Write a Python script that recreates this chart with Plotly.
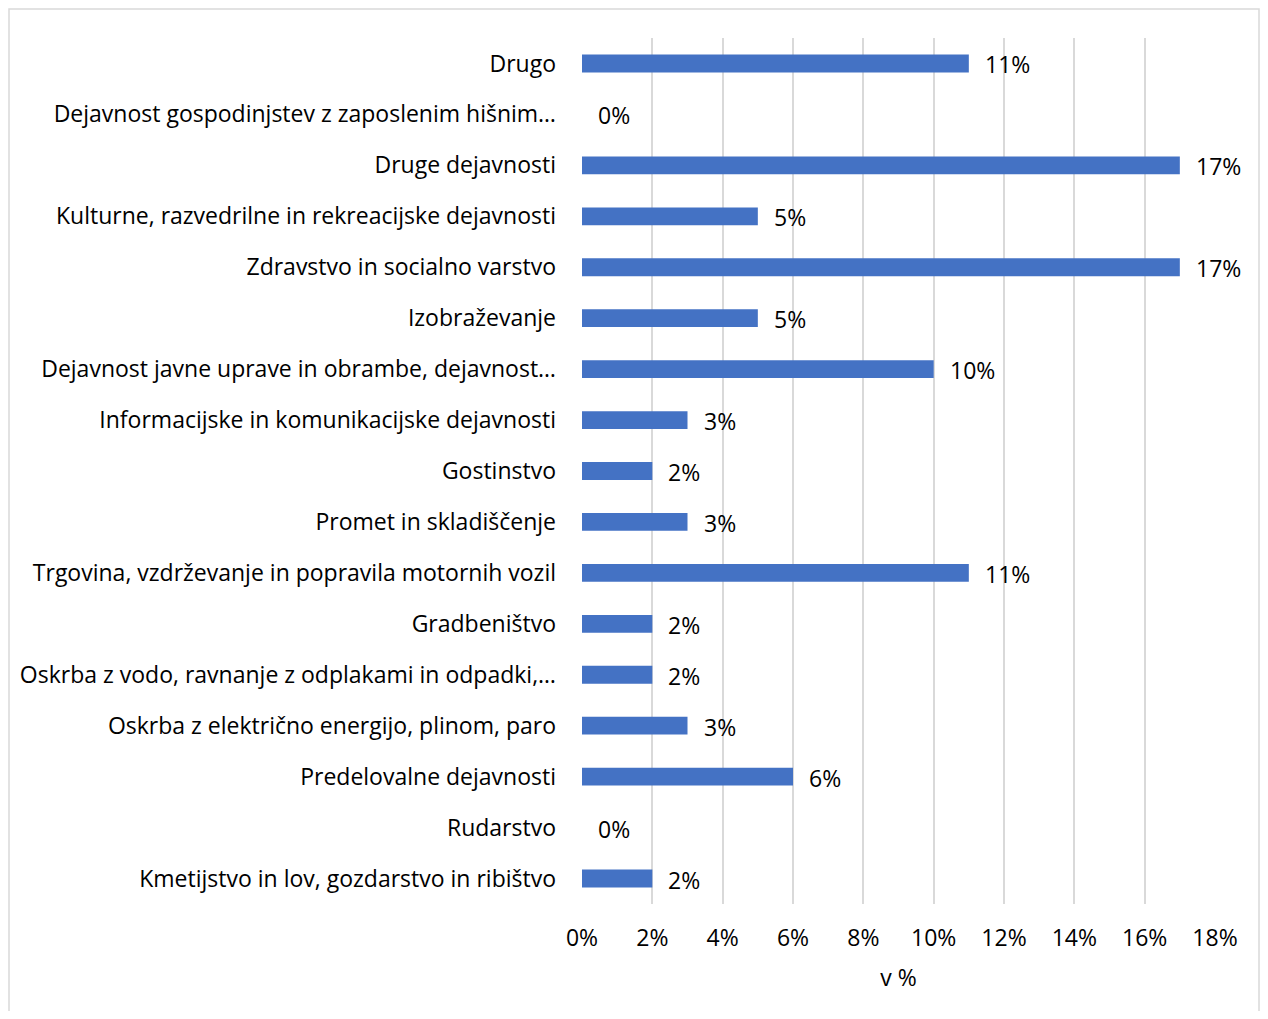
import plotly.graph_objects as go

categories = [
    "Kmetijstvo in lov, gozdarstvo in ribištvo",
    "Rudarstvo",
    "Predelovalne dejavnosti",
    "Oskrba z električno energijo, plinom, paro",
    "Oskrba z vodo, ravnanje z odplakami in odpadki,…",
    "Gradbeništvo",
    "Trgovina, vzdrževanje in popravila motornih vozil",
    "Promet in skladiščenje",
    "Gostinstvo",
    "Informacijske in komunikacijske dejavnosti",
    "Dejavnost javne uprave in obrambe, dejavnost…",
    "Izobraževanje",
    "Zdravstvo in socialno varstvo",
    "Kulturne, razvedrilne in rekreacijske dejavnosti",
    "Druge dejavnosti",
    "Dejavnost gospodinjstev z zaposlenim hišnim…",
    "Drugo",
]
values = [2, 0, 6, 3, 2, 2, 11, 3, 2, 3, 10, 5, 17, 5, 17, 0, 11]
x_ticks = [0, 2, 4, 6, 8, 10, 12, 14, 16, 18]
x_tick_labels = [f"{t}%" for t in x_ticks]
value_labels = [f"{v}%" for v in values]

FONT = "'Open Sans', 'Noto Sans', sans-serif"
FS = 23

fig = go.Figure()
fig.add_trace(go.Bar(
    y=categories,
    x=values,
    orientation="h",
    marker=dict(color="#4472C4", line=dict(width=0)),
    hoverinfo="x+y",
))

for cat, v, lab in zip(categories, values, value_labels):
    fig.add_annotation(
        x=v, y=cat, text=lab, showarrow=False,
        xanchor="left", xshift=14, yshift=-1,
        font=dict(family=FONT, size=FS, color="#000000"),
    )

# page is rendered with an 8px body margin; compensate (and avoid scrollbars)
OFF = 8
W, H = 1268 - 2 * OFF, 1019 - 2 * OFF
L, T = 582 - OFF, 38 - OFF
R = W - (1215 - OFF)
B = H - (904 - OFF)
pw, ph = W - L - R, H - T - B
bottom = T + ph


def py(p):
    return (bottom - (p - OFF)) / ph


def px(p):
    return ((p - OFF) - L) / pw


fig.add_shape(
    type="rect", xref="paper", yref="paper",
    x0=px(9), x1=px(1259), y0=py(1030), y1=py(9),
    line=dict(color="#d9d9d9", width=1.5), fillcolor="rgba(0,0,0,0)",
    layer="below",
)

fig.update_layout(
    width=W, height=H,
    margin=dict(l=L, r=R, t=T, b=B),
    plot_bgcolor="white", paper_bgcolor="white",
    bargap=0.65,
    showlegend=False,
    font=dict(family=FONT, size=FS, color="#000000"),
    xaxis=dict(
        range=[0, 18],
        tickvals=x_ticks, ticktext=x_tick_labels,
        showgrid=True, gridcolor="#d9d9d9", gridwidth=1.5,
        zeroline=False, showline=False, ticks="",
        ticklabelstandoff=18,
        title=dict(text="v %", standoff=17, font=dict(family=FONT, size=FS)),
        fixedrange=True,
    ),
    yaxis=dict(
        categoryorder="array", categoryarray=categories,
        showgrid=False, zeroline=False, showline=False, ticks="",
        ticklabelstandoff=25,
        fixedrange=True,
    ),
)

fig.write_html("out.html")
